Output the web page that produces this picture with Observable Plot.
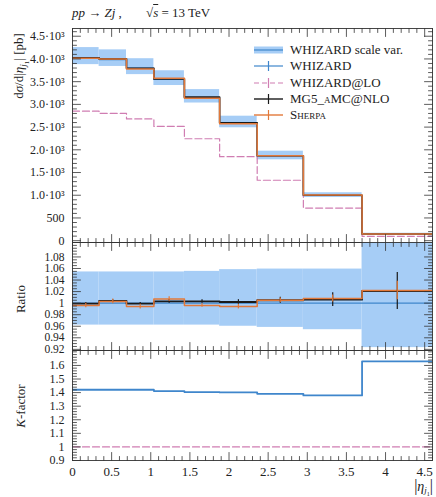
<!DOCTYPE html>
<html><head><meta charset="utf-8">
<script src="https://cdn.jsdelivr.net/npm/d3@7"></script>
<script src="https://cdn.jsdelivr.net/npm/@observablehq/plot@0.6"></script>
<style>
body{margin:0;background:#fff;}
#wrap{position:relative;width:436px;height:497px;font-family:"Liberation Serif","Times New Roman",serif;color:#222;overflow:hidden;}
#wrap svg, #wrap svg text{font-family:"Liberation Serif","Times New Roman",serif !important;}
.abs{position:absolute;}
.rot{position:absolute;transform:translate(-50%,-50%) rotate(-90deg);white-space:nowrap;font-size:13px;}
.sc{font-variant:small-caps;}
#legend{left:254px;top:42px;font-size:13px;}
#legend .row{height:16.3px;display:flex;align-items:center;white-space:nowrap;}
#legend svg{margin-right:7px;flex:none;}
</style></head><body><div id="wrap"></div>
<script>
// ---- data ----
const binEdges = [0, 0.34, 0.69, 1.04, 1.43, 1.88, 2.36, 2.95, 3.7, 4.6];
const whizardNLO = [4030, 3985, 3800, 3550, 3150, 2590, 1860, 995, 145];
const whizardLO = [2850, 2800, 2680, 2515, 2243, 1850, 1330, 718, 95];
const mg5NLO = [4026, 4001, 3796, 3561, 3159, 2595, 1869, 1001, 148];
const sherpaNLO = [4014, 3997, 3777, 3575, 3137, 2574, 1869, 1003, 148];
const scaleLo = [3875, 3835, 3655, 3415, 3030, 2485, 1780, 950, 134];
const scaleHi = [4250, 4200, 4005, 3740, 3325, 2740, 1970, 1055, 164];
// ratio panel (to WHIZARD)
const whizardRatio = [1, 1, 1, 1, 1, 1, 1, 1, 1];
const mg5Ratio = [0.999, 1.004, 0.999, 1.003, 1.003, 1.002, 1.005, 1.006, 1.021];
const sherpaRatio = [0.996, 1.003, 0.994, 1.007, 0.996, 0.994, 1.005, 1.008, 1.022];
const mg5RatioErr = [0.002, 0.002, 0.002, 0.003, 0.003, 0.004, 0.005, 0.012, 0.032];
const sherpaRatioErr = [0.004, 0.004, 0.004, 0.004, 0.003, 0.004, 0.004, 0.006, 0.016];
const ratioBandLo = [0.962, 0.962, 0.962, 0.962, 0.962, 0.960, 0.958, 0.954, 0.923];
const ratioBandHi = [1.054, 1.054, 1.054, 1.054, 1.055, 1.058, 1.059, 1.059, 1.13];
// K-factor panel
const kWhizard = [1.421, 1.421, 1.421, 1.411, 1.404, 1.401, 1.391, 1.379, 1.63];
const kLO = [1, 1, 1, 1, 1, 1, 1, 1, 1];
// ticks
const xTicks = [0, 0.5, 1, 1.5, 2, 2.5, 3, 3.5, 4, 4.5];
const xTickLabels = ["0", "0.5", "1", "1.5", "2", "2.5", "3", "3.5", "4", "4.5"];
const topTicks = [0, 500, 1000, 1500, 2000, 2500, 3000, 3500, 4000, 4500];
const topTickLabels = ["0", "500", "1.0·10³", "1.5·10³", "2.0·10³", "2.5·10³", "3.0·10³", "3.5·10³", "4.0·10³", "4.5·10³"];
const ratioTicks = [0.92, 0.94, 0.96, 0.98, 1, 1.02, 1.04, 1.06, 1.08];
const ratioTickLabels = ["0.92", "0.94", "0.96", "0.98", "1", "1.02", "1.04", "1.06", "1.08"];
const kTicks = [0.9, 1, 1.1, 1.2, 1.3, 1.4, 1.5, 1.6];
const kTickLabels = ["0.9", "1", "1.1", "1.2", "1.3", "1.4", "1.5", "1.6"];

// ---- styling ----
const C = {band: "#a6cdf6", blue: "#3f86cc", pink: "#d07db2", black: "#1a1a1a", orange: "#e2793a"};
const FONT = "'Liberation Serif', 'Times New Roman', serif";
const X_DOMAIN = [0, 4.6];

// ---- helpers building tables from the arrays ----
const bins = binEdges.slice(0, -1).map((x1, i) => ({x1, x2: binEdges[i + 1], xc: (x1 + binEdges[i + 1]) / 2, i}));
const stepPts = vals => bins.map(b => ({x: b.x1, y: vals[b.i]})).concat([{x: binEdges[binEdges.length - 1], y: vals[vals.length - 1]}]);
const seq = (a, b, s) => d3.range(Math.round((b - a) / s) + 1).map(k => +(a + k * s).toFixed(6));
const notIn = (arr, major) => arr.filter(v => !major.some(m => Math.abs(m - v) < 1e-9));

const tickShape = {draw(ctx, l) { ctx.moveTo(0, 0); ctx.lineTo(0, -l); }};
function frameTicks(xMaj, xMin, yMaj, yMin) {
  const o = {stroke: "#333", strokeWidth: 0.8, shape: tickShape, anchor: "start"};
  const m = [];
  for (const [arr, len] of [[xMaj, 8], [xMin, 4]]) {
    m.push(Plot.vector(arr, {...o, x: d => d, frameAnchor: "bottom", rotate: 0, length: len}));
    m.push(Plot.vector(arr, {...o, x: d => d, frameAnchor: "top", rotate: 180, length: len}));
  }
  for (const [arr, len] of [[yMaj, 8], [yMin, 4]]) {
    m.push(Plot.vector(arr, {...o, y: d => d, frameAnchor: "left", rotate: 90, length: len}));
    m.push(Plot.vector(arr, {...o, y: d => d, frameAnchor: "right", rotate: -90, length: len}));
  }
  return m;
}
const xMinor = notIn(seq(0, 4.6, 0.1), xTicks);
const baseStyle = {fontFamily: FONT, fontSize: "12px", color: "#222", background: "transparent", overflow: "visible"};

// ---- panel 1: distribution ----
const p1 = Plot.plot({
  width: 436, height: 242, marginTop: 28, marginBottom: 0, marginLeft: 72, marginRight: 4,
  style: baseStyle,
  x: {domain: X_DOMAIN, axis: null},
  y: {domain: [-40, 4670], axis: null},
  marks: [
    Plot.rect(bins, {x1: "x1", x2: "x2", y1: d => scaleLo[d.i], y2: d => scaleHi[d.i], fill: C.band, clip: true}),
    Plot.line(stepPts(whizardLO), {x: "x", y: "y", curve: "step-after", stroke: C.pink, strokeWidth: 1.2, strokeDasharray: "7,3", clip: true}),
    Plot.line(stepPts(whizardNLO), {x: "x", y: "y", curve: "step-after", stroke: C.blue, strokeWidth: 1.2, clip: true}),
    Plot.line(stepPts(mg5NLO), {x: "x", y: "y", curve: "step-after", stroke: C.black, strokeWidth: 1.6, clip: true}),
    Plot.line(stepPts(sherpaNLO), {x: "x", y: "y", curve: "step-after", stroke: C.orange, strokeWidth: 1.5, clip: true}),
    Plot.frame({stroke: "#333", strokeWidth: 0.9}),
    ...frameTicks(xTicks, xMinor, topTicks, notIn(seq(0, 4600, 100), topTicks)),
    Plot.axisY(topTicks, {tickSize: 0, tickPadding: 8, fontSize: 12, fontFamily: FONT, label: null, tickFormat: d => topTickLabels[topTicks.indexOf(d)]})
  ]
});

// ---- panel 2: ratio ----
const p2 = Plot.plot({
  width: 436, height: 108, marginTop: 0, marginBottom: 0, marginLeft: 72, marginRight: 4,
  style: baseStyle,
  x: {domain: X_DOMAIN, axis: null},
  y: {domain: [0.918, 1.105], axis: null},
  marks: [
    Plot.rect(bins, {x1: "x1", x2: "x2", y1: d => ratioBandLo[d.i], y2: d => ratioBandHi[d.i], fill: C.band, clip: true}),
    Plot.line(stepPts(whizardRatio), {x: "x", y: "y", curve: "step-after", stroke: C.blue, strokeWidth: 1.2, clip: true}),
    Plot.line(stepPts(mg5Ratio), {x: "x", y: "y", curve: "step-after", stroke: C.black, strokeWidth: 1.8, clip: true}),
    Plot.line(stepPts(sherpaRatio), {x: "x", y: "y", curve: "step-after", stroke: C.orange, strokeWidth: 1.5, clip: true}),
    Plot.ruleX(bins, {x: "xc", y1: d => mg5Ratio[d.i] - mg5RatioErr[d.i], y2: d => mg5Ratio[d.i] + mg5RatioErr[d.i], stroke: C.black, strokeWidth: 1.2}),
    Plot.ruleX(bins, {x: "xc", y1: d => sherpaRatio[d.i] - sherpaRatioErr[d.i], y2: d => sherpaRatio[d.i] + sherpaRatioErr[d.i], stroke: C.orange, strokeWidth: 1.2}),
    Plot.frame({stroke: "#333", strokeWidth: 0.9}),
    ...frameTicks(xTicks, xMinor, ratioTicks, notIn(seq(0.92, 1.1, 0.005), ratioTicks)),
    Plot.axisY(ratioTicks, {tickSize: 0, tickPadding: 8, fontSize: 11.5, fontFamily: FONT, label: null, tickFormat: d => ratioTickLabels[ratioTicks.indexOf(d)]})
  ]
});

// ---- panel 3: K-factor ----
const p3 = Plot.plot({
  width: 436, height: 147, marginTop: 0, marginBottom: 37, marginLeft: 72, marginRight: 4,
  style: baseStyle,
  x: {domain: X_DOMAIN, axis: null},
  y: {domain: [0.9, 1.71], axis: null},
  marks: [
    Plot.line(stepPts(kLO), {x: "x", y: "y", curve: "step-after", stroke: C.pink, strokeWidth: 1.2, strokeDasharray: "7,3", clip: true}),
    Plot.line(stepPts(kWhizard), {x: "x", y: "y", curve: "step-after", stroke: C.blue, strokeWidth: 1.8, clip: true}),
    Plot.frame({stroke: "#333", strokeWidth: 0.9}),
    ...frameTicks(xTicks, xMinor, kTicks, notIn(seq(0.9, 1.7, 0.02), kTicks)),
    Plot.axisY(kTicks, {tickSize: 0, tickPadding: 8, fontSize: 12, fontFamily: FONT, label: null, tickFormat: d => kTickLabels[kTicks.indexOf(d)]}),
    Plot.axisX(xTicks, {tickSize: 0, tickPadding: 6, fontSize: 13, fontFamily: FONT, label: null, tickFormat: d => xTickLabels[xTicks.indexOf(d)]})
  ]
});

// ---- assemble ----
const wrap = document.getElementById("wrap");
function place(node, top) { node.style.position = "absolute"; node.style.left = "0px"; node.style.top = top + "px"; wrap.appendChild(node); }
place(p1, 0); place(p2, 242); place(p3, 350);

const eta = '|<i>η</i><sub style="font-size:9px;vertical-align:-3px"><i>j</i><sub style="font-size:7px">1</sub></sub>|';
const etaBig = '<span style="font-size:16px">|</span><i>η</i><sub style="font-size:9px;vertical-align:-2px"><i>j</i><sub style="font-size:6px">1</sub></sub><span style="font-size:16px">|</span>';
wrap.insertAdjacentHTML("beforeend", `
<div class="abs" style="left:72px;top:5px;font-size:13px;white-space:nowrap"><i>pp</i> → <i>Zj</i> ,</div>
<div class="abs" style="left:146px;top:5px;font-size:13px;white-space:nowrap">√<i style="text-decoration:overline">s</i> = 13 TeV</div>
<div class="rot" style="left:21px;top:66px">d<i>σ</i>/d${eta} [pb]</div>
<div class="rot" style="left:21px;top:299px">Ratio</div>
<div class="rot" style="left:21px;top:406px"><i>K</i>-factor</div>
<div class="abs" style="right:3px;top:478px;font-size:14px;line-height:16px;white-space:nowrap">${etaBig}</div>
<div id="legend" class="abs">
 <div class="row"><svg width="29" height="14"><rect x="0" y="3.5" width="29" height="7" fill="${C.band}"/><line x1="0" x2="29" y1="7" y2="7" stroke="${C.blue}" stroke-width="1.2"/></svg><span>WHIZARD scale var.</span></div>
 <div class="row"><svg width="29" height="14"><line x1="0" x2="29" y1="7" y2="7" stroke="${C.blue}" stroke-width="1.2"/><line x1="14.5" x2="14.5" y1="2" y2="12" stroke="${C.blue}" stroke-width="1.2"/></svg><span>WHIZARD</span></div>
 <div class="row"><svg width="29" height="14"><line x1="0" x2="29" y1="7" y2="7" stroke="${C.pink}" stroke-width="1.2" stroke-dasharray="5,3"/><line x1="14.5" x2="14.5" y1="2" y2="12" stroke="${C.pink}" stroke-width="1.2"/></svg><span>WHIZARD@LO</span></div>
 <div class="row"><svg width="29" height="14"><line x1="0" x2="29" y1="7" y2="7" stroke="${C.black}" stroke-width="1.4"/><line x1="14.5" x2="14.5" y1="2" y2="12" stroke="${C.black}" stroke-width="1.2"/></svg><span>MG5_<span class="sc">aMC</span>@NLO</span></div>
 <div class="row"><svg width="29" height="14"><line x1="0" x2="29" y1="7" y2="7" stroke="${C.orange}" stroke-width="1.4"/><line x1="14.5" x2="14.5" y1="2" y2="12" stroke="${C.orange}" stroke-width="1.2"/></svg><span class="sc">Sherpa</span></div>
</div>`);
</script>
</body></html>
